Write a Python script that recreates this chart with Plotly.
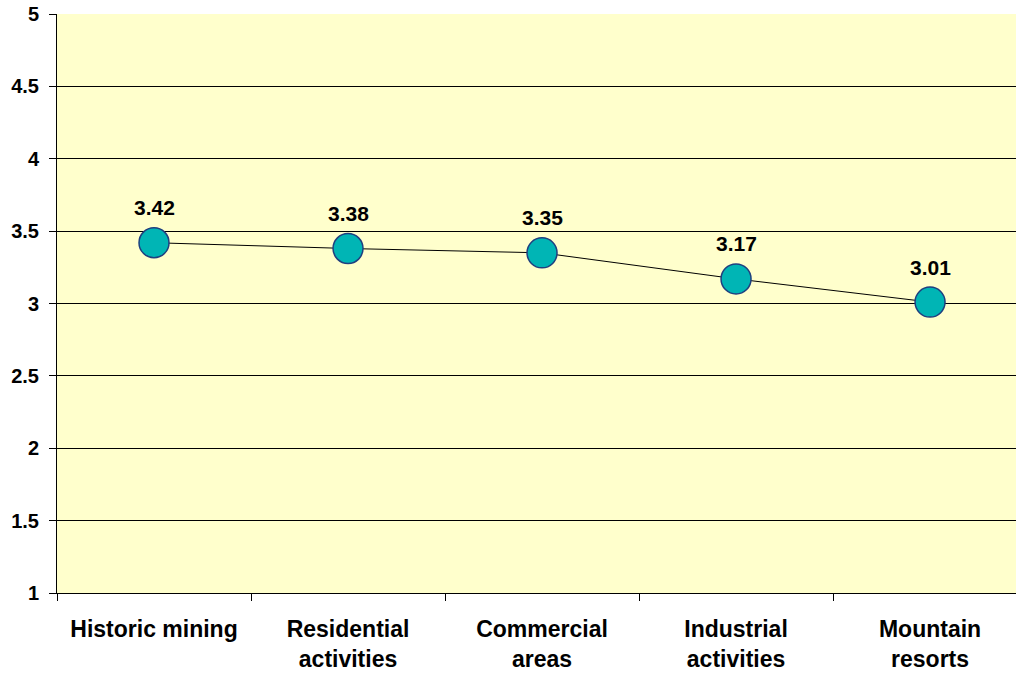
import plotly.graph_objects as go

categories = ["Historic mining", "Residential<br>activities", "Commercial<br>areas",
              "Industrial<br>activities", "Mountain<br>resorts"]
values = [3.42, 3.38, 3.35, 3.17, 3.01]
labels = ["3.42", "3.38", "3.35", "3.17", "3.01"]

font = "Arial, 'Liberation Sans', sans-serif"

fig = go.Figure()
fig.add_trace(go.Scatter(
    x=categories, y=values, mode="lines+markers",
    line=dict(color="black", width=1),
    marker=dict(size=30, color="#00B5B5", line=dict(color="#1F3F7F", width=1.5)),
    showlegend=False, hoverinfo="skip"))

for c, v, t in zip(categories, values, labels):
    fig.add_annotation(x=c, y=v, text="<b>%s</b>" % t, showarrow=False,
                       yshift=35, font=dict(size=21, color="black", family=font))

fig.update_layout(
    width=1016, height=673,
    margin=dict(l=57, r=0, t=14, b=80),
    paper_bgcolor="white", plot_bgcolor="#FFFFCC",
    font=dict(family=font, color="black"),
)
fig.update_xaxes(
    type="category", range=[-0.5, 4.443], tickson="boundaries",
    ticks="outside", ticklen=7, tickcolor="black",
    showline=True, linecolor="black", linewidth=1, showgrid=False,
    tickfont=dict(size=23, family=font), ticklabelstandoff=15,
    tickprefix="<b>", ticksuffix="</b>")
fig.update_yaxes(
    range=[1, 5], dtick=0.5, ticks="outside", ticklen=7, tickcolor="black",
    showline=True, linecolor="black", linewidth=1,
    showgrid=True, gridcolor="black", gridwidth=1, zeroline=False,
    tickfont=dict(size=20, family=font), ticklabelstandoff=6,
    tickprefix="<b>", ticksuffix="</b>")

# drop the default 8px body margin so the figure fills the window
fig.write_html("out.html", config={"displayModeBar": False},
               post_script="document.body.style.margin='0px';")
